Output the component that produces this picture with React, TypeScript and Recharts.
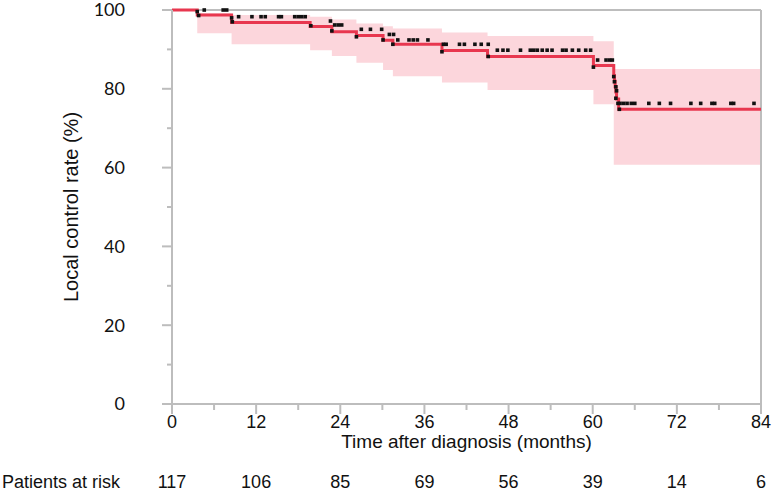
import { Area, ComposedChart, Label, Line, ReferenceLine, Scatter, XAxis, YAxis } from "recharts";

// Kaplan-Meier estimate (months / %)
const kmTime = [0, 3.6, 8.5, 19.7, 22.8, 26.3, 30.1, 31.5, 38.5, 45.0, 60.1, 63.0, 63.1, 63.2, 63.3, 63.4, 63.7, 84];
const kmRate = [100, 98.7, 96.8, 95.8, 94.5, 93.5, 92.3, 91.3, 89.7, 88.2, 85.9, 83.4, 81.9, 80.5, 79.2, 77.4, 74.8, 74.8];
// 95% CI band, same steps
const ciLower = [100, 94.1, 91.3, 89.8, 88.3, 86.6, 84.8, 83.2, 81.6, 79.7, 76.1, 60.7, 60.7, 60.7, 60.7, 60.7, 60.7, 60.7];
const ciUpper = [100, 99.2, 98.7, 98.3, 97.6, 96.6, 95.9, 95.3, 94.3, 93.4, 92.1, 85.0, 85.0, 85.0, 85.0, 85.0, 85.0, 85.0];

// black censor marks
const censorTime = [
  3.6, 3.8, 4.6, 7.3, 7.8, 8.5, 8.6, 9.5, 11.4, 12.7, 13.3, 15.2, 15.6, 17.5, 18.0, 18.5, 19.0,
  19.8, 22.6, 22.8, 23.2, 23.7, 24.2, 26.3, 27.0, 28.3, 29.9, 30.1, 31.0, 31.6, 31.5, 32.2,
  33.8, 34.4, 35.0, 36.5, 38.5, 38.7, 39.1, 41.0, 41.7, 43.2, 44.1, 45.1, 45.1, 46.4, 47.2,
  47.9, 49.7, 51.1, 51.6, 52.1, 52.8, 53.5, 54.2, 55.7, 56.2, 57.1, 58.0, 59.0, 59.7, 60.1,
  60.7, 61.9, 62.4, 62.8, 63.0, 63.1, 63.3, 63.4, 63.3, 63.6, 63.8, 63.9, 64.4, 64.9, 65.5,
  66.0, 68.0, 69.5, 71.1, 74.0, 75.4, 77.0, 77.4, 79.7, 80.1, 83.0,
];
const censorRate = [
  99.6, 98.6, 100, 100, 100, 98.0, 97.0, 98.3, 98.3, 98.3, 98.3, 98.3, 98.3, 98.3, 98.3, 98.3, 98.3,
  96.0, 97.2, 94.7, 96.2, 96.2, 96.2, 93.2, 95.1, 95.1, 95.1, 92.4, 93.8, 93.8, 91.3, 92.4,
  92.4, 92.4, 92.4, 92.4, 89.4, 91.3, 91.3, 91.3, 91.3, 91.3, 91.3, 91.3, 88.2, 89.8, 89.8,
  89.8, 89.8, 89.8, 89.8, 89.8, 89.8, 89.8, 89.8, 89.8, 89.8, 89.8, 89.8, 89.8, 89.8, 85.5,
  87.3, 87.3, 87.3, 87.3, 83.1, 81.8, 80.5, 79.5, 77.6, 76.3, 74.8, 76.3, 76.3, 76.3, 76.3,
  76.3, 76.3, 76.3, 76.3, 76.3, 76.3, 76.3, 76.3, 76.3, 76.3, 76.3,
];

const xTicks = [0, 6, 12, 18, 24, 30, 36, 42, 48, 54, 60, 66, 72, 78, 84];
const yTicks = [0, 10, 20, 30, 40, 50, 60, 70, 80, 90, 100];
const atRisk = [117, 106, 85, 69, 56, 39, 14, 6];

const AXIS = "#bdbdbd";
const RED = "#e8374f";
const PINK = "#fcd6dc";
const FONT = "'Liberation Sans', Arial, sans-serif";
const NUM_FONT = "Lato, 'Liberation Sans', sans-serif";

const kmRows = kmTime.map((t, i) => ({ t, rate: kmRate[i], ci: [ciLower[i], ciUpper[i]] }));
const censorRows = censorTime.map((t, i) => ({ t, y: censorRate[i] }));

function XTick({ x, y, payload }: { x: number; y: number; payload: { value: number } }) {
  const v = payload.value;
  const major = v % 12 === 0;
  const axisY = y - 10; // tickSize 10, tickMargin 0
  return (
    <g>
      <line x1={x} x2={x} y1={axisY} y2={axisY + (major ? 10 : 6)} stroke={AXIS} strokeWidth={2} />
      {major && (
        <text x={x} y={axisY + 24} textAnchor="middle" fontFamily={FONT} fontSize={18} fill="#111">
          {v}
        </text>
      )}
      {major && (
        <text x={x} y={axisY + 84} textAnchor="middle" fontFamily={FONT} fontSize={18} fill="#111">
          {atRisk[v / 12]}
        </text>
      )}
      {v === 0 && (
        <text x={2} y={axisY + 84} textAnchor="start" fontFamily={FONT} fontSize={18} fill="#111">
          Patients at risk
        </text>
      )}
    </g>
  );
}

function YTick({ x, y, payload }: { x: number; y: number; payload: { value: number } }) {
  const v = payload.value;
  const major = v % 20 === 0;
  const axisX = x + 10;
  return (
    <g>
      <line x1={axisX - (major ? 10 : 5)} x2={axisX} y1={y} y2={y} stroke={AXIS} strokeWidth={2} />
      {major && (
        <text x={axisX - 47} y={y} dy="0.36em" textAnchor="end" fontFamily={NUM_FONT} fontSize={18} fill="#111">
          {v}
        </text>
      )}
    </g>
  );
}

function CensorMark({ cx, cy }: { cx?: number; cy?: number }) {
  if (cx == null || cy == null) return null;
  return <rect x={cx - 1.8} y={cy - 1.8} width={3.6} height={3.6} fill="#111" />;
}

export default function App() {
  return (
    <div style={{ position: "absolute", left: 0, top: 0, background: "#fff" }}>
      <ComposedChart width={774} height={493} data={kmRows} margin={{ top: 10, right: 13, bottom: 0, left: 0 }}>
        <XAxis
          dataKey="t"
          type="number"
          domain={[0, 84]}
          ticks={xTicks}
          interval={0}
          height={89}
          tickSize={10}
          tickMargin={0}
          tickLine={false}
          axisLine={{ stroke: AXIS, strokeWidth: 2 }}
          tick={XTick}
        >
          <Label
            content={({ viewBox }: any) => (
              <text
                x={viewBox.x + viewBox.width / 2}
                y={viewBox.y + 44}
                textAnchor="middle"
                fontFamily={FONT}
                fontSize={19}
                fill="#111"
              >
                Time after diagnosis (months)
              </text>
            )}
          />
        </XAxis>
        <YAxis
          type="number"
          domain={[0, 100]}
          ticks={yTicks}
          interval={0}
          width={172}
          tickSize={10}
          tickMargin={0}
          tickLine={false}
          axisLine={{ stroke: AXIS, strokeWidth: 2 }}
          tick={YTick}
        >
          <Label
            content={({ viewBox }: any) => {
              const cx = viewBox.x + 71;
              const cy = viewBox.y + viewBox.height / 2;
              return (
                <text
                  x={cx}
                  y={cy}
                  dy="0.35em"
                  transform={`rotate(-90 ${cx} ${cy})`}
                  textAnchor="middle"
                  fontFamily={FONT}
                  fontSize={20}
                  fill="#111"
                >
                  Local control rate (%)
                </text>
              );
            }}
          />
        </YAxis>
        <ReferenceLine y={100} stroke={AXIS} strokeWidth={2} />
        <ReferenceLine x={84} stroke={AXIS} strokeWidth={2} />
        <Area
          dataKey="ci"
          type="stepAfter"
          fill={PINK}
          fillOpacity={1}
          stroke="none"
          isAnimationActive={false}
        />
        <Line
          dataKey="rate"
          type="stepAfter"
          stroke={RED}
          strokeWidth={3}
          dot={false}
          isAnimationActive={false}
        />
        <Scatter data={censorRows} dataKey="y" shape={CensorMark} isAnimationActive={false} />
      </ComposedChart>
    </div>
  );
}
